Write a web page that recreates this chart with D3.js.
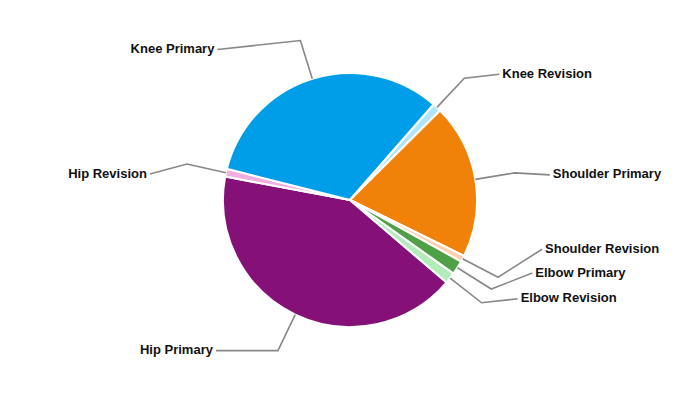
<!DOCTYPE html>
<html><head><meta charset="utf-8">
<script src="https://cdn.jsdelivr.net/npm/d3@7"></script>
<style>html,body{margin:0;padding:0;background:#fff;}svg{display:block;}</style>
</head><body><svg id="chart" width="700" height="400"></svg>
<script>
// data
const categories = ["Hip Primary","Hip Revision","Knee Primary","Knee Revision","Shoulder Primary","Shoulder Revision","Elbow Primary","Elbow Revision"];
const values = [41.7, 1.0, 32.5, 1.1, 19.7, 0.8, 1.8, 1.4];
const colors = ["#841078","#f2aee0","#009ee8","#aee5fa","#f0820a","#fdd1ad","#4fa047","#b4ecb9"];

// layout (label leader offsets from the elbow point)
const labelDx = [-62, -37, -83, 35, 35, 44, 41, 36];
const labelDy = [0, 10, 9, -4, 2, -28, -16, -4];

const W = 700, H = 400, cx = 350, cy = 200, R = 127;
const svg = d3.select("#chart");
const g = svg.append("g").attr("transform", `translate(${cx},${cy})`);

const start = 130.5 * Math.PI / 180;
const pie = d3.pie().sort(null).value(d => d.v).startAngle(start).endAngle(start + 2 * Math.PI);
const data = categories.map((c, i) => ({c, v: values[i], i}));
const arcs = pie(data);
const arc = d3.arc().innerRadius(0).outerRadius(R);
const arcEdge = d3.arc().innerRadius(R).outerRadius(R);
const arcElbow = d3.arc().innerRadius(R + 40).outerRadius(R + 40);

g.selectAll("path.slice").data(arcs).enter().append("path")
  .attr("class", "slice")
  .attr("d", arc)
  .attr("fill", d => colors[d.data.i])
  .attr("stroke", "#fff").attr("stroke-width", 2).attr("stroke-linejoin", "round");

arcs.forEach(d => {
  const i = d.data.i;
  const p0 = arcEdge.centroid(d);
  const p1 = arcElbow.centroid(d);
  const p2 = [p1[0] + labelDx[i], p1[1] + labelDy[i]];
  g.append("polyline")
    .attr("points", [p0, p1, p2].map(p => p.join(",")).join(" "))
    .attr("fill", "none").attr("stroke", "#878787").attr("stroke-width", 1.6);
  const right = labelDx[i] > 0;
  g.append("text")
    .attr("x", p2[0] + (right ? 3 : -3))
    .attr("y", p2[1] - 1)
    .attr("dy", "0.35em")
    .attr("text-anchor", right ? "start" : "end")
    .attr("font-family", "'Liberation Sans', Arial, sans-serif")
    .attr("font-weight", "bold")
    .attr("font-size", 13)
    .attr("fill", "#111")
    .text(categories[i]);
});
</script>
</body></html>
